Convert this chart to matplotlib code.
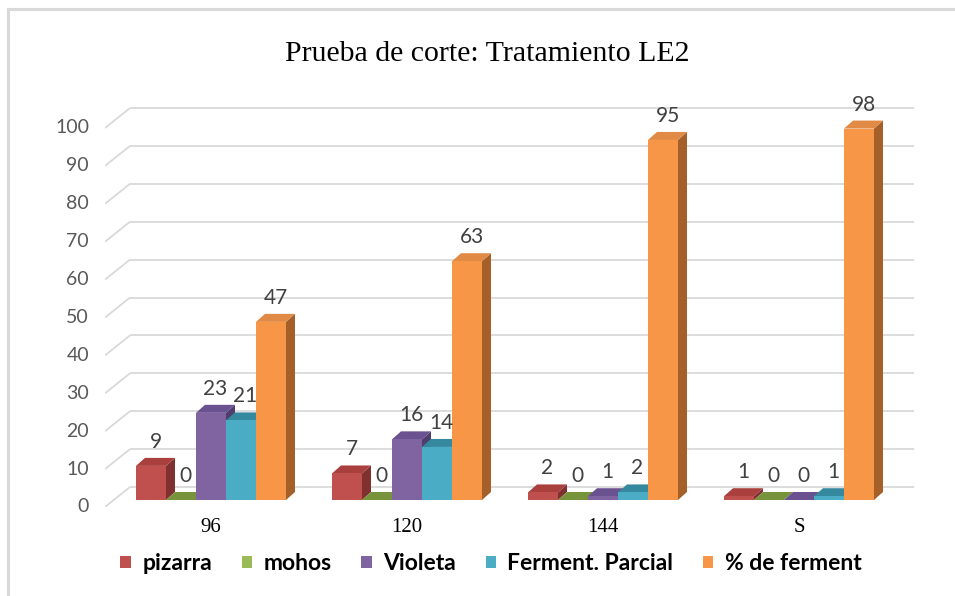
import matplotlib
matplotlib.use("Agg")
import matplotlib.pyplot as plt
from matplotlib.patches import Polygon, Patch
from matplotlib.lines import Line2D

# ---------------- data ----------------
categories = ["96", "120", "144", "S"]
series_names = ["pizarra", "mohos", "Violeta", "Ferment. Parcial", "% de ferment"]
pizarra = [9, 7, 2, 1]
mohos = [0, 0, 0, 0]
violeta = [23, 16, 1, 0]
ferment_parcial = [21, 14, 2, 1]
pct_ferment = [47, 63, 95, 98]
y_ticks = [0, 10, 20, 30, 40, 50, 60, 70, 80, 90, 100]
title = "Prueba de corte: Tratamiento LE2"

series_values = [pizarra, mohos, violeta, ferment_parcial, pct_ferment]
front_colors = ["#C0504D", "#9BBB59", "#8064A2", "#4BACC6", "#F79646"]
top_colors = ["#A9403D", "#77933C", "#6A5190", "#35899F", "#E08A45"]
side_colors = ["#80302E", "#5E7530", "#4F3D6E", "#2B6E80", "#A5602A"]

# ---------------- geometry (pixel based) ----------------
W, H = 955, 596
DPI = 100
PX_PER_GROUP = 196.0
PX_PER_UNIT = 3.79
LEFT_PX, RIGHT_PX = 105, 916
ZERO_PX, TOP_PX = 507, 90

def xu(px):
    return px / PX_PER_GROUP

def yu(px):
    return px / PX_PER_UNIT

FLOOR_DX, FLOOR_DY = xu(25), yu(20)      # depth of floor / back wall
BAR_OFF_DX, BAR_OFF_DY = xu(8), yu(7)    # bar front position inside the depth
BAR_DX, BAR_DY = xu(9), yu(8)            # bar depth
BAR_W = xu(30)
GAP = xu(23)

fig = plt.figure(figsize=(W / DPI, H / DPI), dpi=DPI)
ax = fig.add_axes([LEFT_PX / W, (H - ZERO_PX) / H,
                   (RIGHT_PX - LEFT_PX) / W, (ZERO_PX - TOP_PX) / H])
ax.set_xlim(-0.5, -0.5 + xu(RIGHT_PX - LEFT_PX))
ax.set_ylim(0, yu(ZERO_PX - TOP_PX))
ax.axis("off")

n_groups = len(categories)
x_left = -0.5
x_right = -0.5 + n_groups

# gridlines (back wall + diagonal on left wall)
grid_col = "#D9D9D9"
for v in y_ticks:
    ax.plot([x_left + FLOOR_DX, x_right + FLOOR_DX], [v + FLOOR_DY, v + FLOOR_DY],
            color=grid_col, lw=1.3, zorder=1, solid_capstyle="butt")
    ax.plot([x_left, x_left + FLOOR_DX], [v, v + FLOOR_DY],
            color=grid_col, lw=1.3, zorder=1, solid_capstyle="butt")
    ax.text(x_left - xu(16), v, str(v), ha="right", va="center",
            fontsize=14, color="#595959", family="Lato")

# bars
label_font = dict(fontsize=15, color="#404040", family="Lato", ha="center", va="center")
for i in range(n_groups):
    for j, vals in enumerate(series_values):
        v = vals[i]
        x0 = i - 0.5 + GAP + BAR_OFF_DX + j * BAR_W
        b = BAR_OFF_DY
        z = 2 + j * 3
        side = Polygon([(x0 + BAR_W, b), (x0 + BAR_W, b + v),
                        (x0 + BAR_W + BAR_DX, b + v + BAR_DY), (x0 + BAR_W + BAR_DX, b + BAR_DY)],
                       closed=True, facecolor=side_colors[j], edgecolor="none", zorder=z)
        ax.add_patch(side)
        top = Polygon([(x0, b + v), (x0 + BAR_W, b + v),
                       (x0 + BAR_W + BAR_DX, b + v + BAR_DY), (x0 + BAR_DX, b + v + BAR_DY)],
                      closed=True, facecolor=top_colors[j], edgecolor="none", zorder=z + 1)
        ax.add_patch(top)
        ax.bar(x0, v, width=BAR_W, bottom=b, align="edge", color=front_colors[j],
               edgecolor="none", zorder=z + 2)
        ax.text(x0 + BAR_W / 2 + BAR_DX / 2, b + v + BAR_DY + yu(16), str(v),
                zorder=30, **label_font)

# category labels
for i, c in enumerate(categories):
    xc = i - 0.5 + GAP + BAR_OFF_DX + 2.5 * BAR_W
    ax.text(xc, -yu(21), c, ha="center", va="center", fontsize=15,
            family="Liberation Serif", color="#000000")

# title
fig.text(487 / W, 1 - 54 / H, title, ha="center", va="center",
         fontsize=21.5, family="Liberation Serif", color="#000000")

# legend
handles = [Patch(facecolor=c, edgecolor="none") for c in front_colors]
leg = fig.legend(handles, series_names, loc="center", bbox_to_anchor=(491 / W, 1 - 564 / H),
                 ncol=5, frameon=False, handlelength=0.45, handleheight=0.45,
                 handletextpad=0.5, columnspacing=1.3,
                 prop=dict(family="Lato", weight="bold", size=16.5))

# chart border (top and left visible)
fig.add_artist(Line2D([8 / W, 1], [1 - 9 / H, 1 - 9 / H], color="#D9D9D9", lw=2.2))
fig.add_artist(Line2D([8 / W, 8 / W], [0, 1 - 9 / H], color="#D9D9D9", lw=2.2))

fig.savefig("out.png", dpi=DPI)
